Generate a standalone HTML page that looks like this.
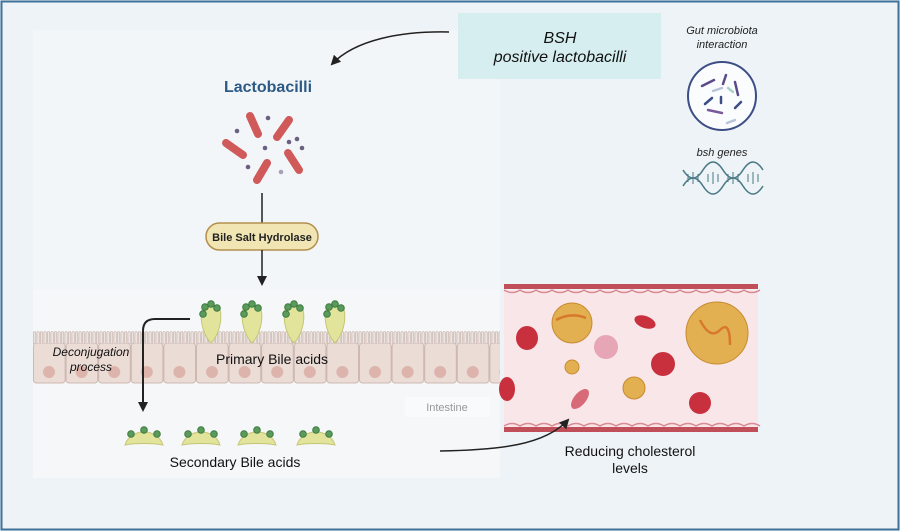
<!DOCTYPE html>
<html><head><meta charset="utf-8"><style>
html,body{margin:0;padding:0;background:#fff}
svg{display:block}
text{font-family:"Liberation Sans",sans-serif}
</style></head><body>
<svg width="900" height="531" viewBox="0 0 900 531" xmlns="http://www.w3.org/2000/svg">
<defs>
<pattern id="cells" x="33" y="343" width="32.6" height="42" patternUnits="userSpaceOnUse">
<rect x="0.5" y="0" width="31.6" height="40" rx="3" fill="#ecdcd6" stroke="#cdb8b2" stroke-width="1"/>
<circle cx="16" cy="29" r="6" fill="#dcb4ac"/>
</pattern>
<pattern id="villi" x="33" y="331" width="3.5" height="13" patternUnits="userSpaceOnUse">
<rect x="0.4" y="0.5" width="2.4" height="13" rx="1.2" fill="#efe3df" stroke="#bfaca6" stroke-width="0.6"/>
</pattern>
<marker id="ah" markerWidth="10" markerHeight="10" refX="8" refY="5" orient="auto" markerUnits="userSpaceOnUse">
<path d="M0,0 L10,5 L0,10 Z" fill="#222"/>
</marker>
<g id="pba">
<path d="M-9,-8 C-12,6 -6,20 0,26 C6,20 12,6 9,-8 C4,-12 -4,-12 -9,-8Z" fill="#e2e49c" stroke="#c5c575" stroke-width="1"/>
<circle cx="-6" cy="-10" r="3.3" fill="#5a9a5a" stroke="#3c7a40"/>
<circle cx="0" cy="-13" r="3.3" fill="#5a9a5a" stroke="#3c7a40"/>
<circle cx="6" cy="-9" r="3.3" fill="#5a9a5a" stroke="#3c7a40"/>
<circle cx="-8" cy="-3" r="3.3" fill="#5a9a5a" stroke="#3c7a40"/>
</g>
<g id="sba">
<path d="M-19,9 C-17,2 -10,-4 0,-4 C10,-4 17,2 19,9 C10,7 -10,7 -19,9 Z" fill="#e2e49c" stroke="#c5c575" stroke-width="1"/>
<circle cx="-13" cy="-2" r="3.3" fill="#5a9a5a" stroke="#3c7a40"/>
<circle cx="0" cy="-6" r="3.3" fill="#5a9a5a" stroke="#3c7a40"/>
<circle cx="13" cy="-2" r="3.3" fill="#5a9a5a" stroke="#3c7a40"/>
</g>
</defs>
<rect x="0" y="0" width="900" height="531" fill="#eef3f7"/>
<rect x="1.5" y="1.5" width="897" height="528" fill="#eef3f7" stroke="#3f7199" stroke-width="2"/>
<rect x="33" y="30" width="467" height="448" fill="#f3f6f9"/>
<rect x="33" y="290" width="467" height="188" fill="#f6f7f8"/>

<!-- BSH box -->
<rect x="458" y="13" width="203" height="66" fill="#d6eef0"/>
<text x="560" y="43" font-size="16" font-style="italic" text-anchor="middle" fill="#111">BSH</text>
<text x="560" y="62" font-size="16" font-style="italic" text-anchor="middle" fill="#111">positive lactobacilli</text>
<path d="M449,32 C400,31 355,40 332,64" fill="none" stroke="#222" stroke-width="1.5" marker-end="url(#ah)"/>

<text x="268" y="92" font-size="16" font-weight="bold" text-anchor="middle" fill="#2c5a85">Lactobacilli</text>
<g stroke="#d0595a" stroke-width="8" stroke-linecap="round">
<line x1="250" y1="116" x2="258" y2="134"/>
<line x1="289" y1="120" x2="277" y2="137"/>
<line x1="226" y1="143" x2="243" y2="155"/>
<line x1="267" y1="163" x2="257" y2="180"/>
<line x1="288" y1="153" x2="299" y2="170"/>
</g>
<g fill="#6a6080">
<circle cx="268" cy="118" r="2.3"/><circle cx="237" cy="131" r="2.3"/><circle cx="265" cy="148" r="2.3"/>
<circle cx="289" cy="142" r="2.3"/><circle cx="297" cy="139" r="2.3"/><circle cx="302" cy="148" r="2.3"/>
<circle cx="248" cy="167" r="2.3"/><circle cx="281" cy="172" r="2.3" fill="#a9a0b8"/>
</g>
<line x1="262" y1="193" x2="262" y2="223" stroke="#222" stroke-width="1.5"/>
<rect x="206" y="223" width="112" height="27" rx="13.5" fill="#f1e6b3" stroke="#b38f4e" stroke-width="1.5"/>
<text x="262" y="241" font-size="11" font-weight="bold" text-anchor="middle" fill="#222">Bile Salt Hydrolase</text>
<line x1="262" y1="250" x2="262" y2="284" stroke="#222" stroke-width="1.5" marker-end="url(#ah)"/>

<!-- intestine cells -->
<rect x="33" y="331" width="467" height="13" fill="url(#villi)"/>
<rect x="33" y="343" width="467" height="42" fill="url(#cells)"/>
<use href="#pba" x="211" y="317"/>
<use href="#pba" x="252" y="317"/>
<use href="#pba" x="294" y="317"/>
<use href="#pba" x="335" y="317"/>
<text x="272" y="364" font-size="14" text-anchor="middle" fill="#111">Primary Bile acids</text>
<text x="91" y="356" font-size="12" font-style="italic" text-anchor="middle" fill="#111">Deconjugation</text>
<text x="91" y="371" font-size="12" font-style="italic" text-anchor="middle" fill="#111">process</text>
<path d="M190,319 L155,319 Q143,319 143,331 L143,410" fill="none" stroke="#222" stroke-width="2" marker-end="url(#ah)"/>
<rect x="405" y="397" width="85" height="20" fill="#f9fafb"/>
<text x="447" y="411" font-size="11" text-anchor="middle" fill="#999">Intestine</text>
<use href="#sba" x="144" y="436"/>
<use href="#sba" x="201" y="436"/>
<use href="#sba" x="257" y="436"/>
<use href="#sba" x="316" y="436"/>
<text x="235" y="467" font-size="14" text-anchor="middle" fill="#111">Secondary Bile acids</text>

<!-- blood vessel -->
<rect x="504" y="290" width="254" height="138" fill="#f8e6e9"/>
<rect x="504" y="284" width="254" height="5" fill="#c14f5a"/>
<rect x="504" y="427" width="254" height="5" fill="#c14f5a"/>
<path d="M504,290 q8,5 16,0 q8,5 16,0 q8,5 16,0 q8,5 16,0 q8,5 16,0 q8,5 16,0 q8,5 16,0 q8,5 16,0 q8,5 16,0 q8,5 16,0 q8,5 16,0 q8,5 16,0 q8,5 16,0 q8,5 16,0 q8,5 16,0 q8,5 16,0" fill="none" stroke="#d88a94" stroke-width="1.5"/>
<path d="M504,426 q8,-5 16,0 q8,-5 16,0 q8,-5 16,0 q8,-5 16,0 q8,-5 16,0 q8,-5 16,0 q8,-5 16,0 q8,-5 16,0 q8,-5 16,0 q8,-5 16,0 q8,-5 16,0 q8,-5 16,0 q8,-5 16,0 q8,-5 16,0 q8,-5 16,0 q8,-5 16,0" fill="none" stroke="#d88a94" stroke-width="1.5"/>
<g fill="#c8303e">
<ellipse cx="527" cy="338" rx="11" ry="12"/>
<ellipse cx="645" cy="322" rx="11" ry="6" transform="rotate(20 645 322)"/>
<circle cx="663" cy="364" r="12"/>
<circle cx="700" cy="403" r="11"/>
<ellipse cx="507" cy="389" rx="8" ry="12"/>
</g>
<ellipse cx="580" cy="399" rx="6" ry="12" transform="rotate(40 580 399)" fill="#d86a78"/>
<circle cx="606" cy="347" r="12" fill="#e6a6b6"/>
<g fill="#e2b050" stroke="#c88a30" stroke-width="1">
<circle cx="572" cy="323" r="20"/>
<circle cx="717" cy="333" r="31"/>
<circle cx="572" cy="367" r="7"/>
<circle cx="634" cy="388" r="11"/>
</g>
<path d="M556,320 q15,-8 30,-2 M700,320 q10,20 20,10 q10,-10 10,15" fill="none" stroke="#d8782a" stroke-width="2.5"/>
<path d="M440,451 C500,450 545,445 568,420" fill="none" stroke="#222" stroke-width="1.5" marker-end="url(#ah)"/>
<text x="630" y="456" font-size="14" text-anchor="middle" fill="#111">Reducing  cholesterol</text>
<text x="630" y="473" font-size="14" text-anchor="middle" fill="#111">levels</text>

<!-- right icons -->
<text x="722" y="34" font-size="11" font-style="italic" text-anchor="middle" fill="#222">Gut microbiota</text>
<text x="722" y="48" font-size="11" font-style="italic" text-anchor="middle" fill="#222">interaction</text>
<circle cx="722" cy="96" r="34" fill="#fbfcfd" stroke="#3b4e85" stroke-width="2"/>
<g stroke-linecap="round" stroke-width="2.5">
<line x1="702" y1="86" x2="714" y2="80" stroke="#5a4a8a"/>
<line x1="726" y1="75" x2="723" y2="84" stroke="#5a4a8a"/>
<line x1="735" y1="82" x2="738" y2="95" stroke="#5a4a8a"/>
<line x1="705" y1="104" x2="712" y2="98" stroke="#3b4e85"/>
<line x1="721" y1="97" x2="721" y2="103" stroke="#3b4e85"/>
<line x1="708" y1="110" x2="722" y2="113" stroke="#7a5a9a"/>
<line x1="735" y1="108" x2="741" y2="102" stroke="#3b4e85"/>
<line x1="713" y1="91" x2="722" y2="88" stroke="#b9c4d8"/>
<line x1="728" y1="88" x2="733" y2="92" stroke="#aad2cc"/>
<line x1="727" y1="123" x2="735" y2="120" stroke="#b9c4d8"/>
</g>
<text x="722" y="156" font-size="11" font-style="italic" text-anchor="middle" fill="#222">bsh genes</text>
<g fill="none" stroke="#4a7a86" stroke-width="1.5">
<path d="M683,170 q10,16 20,0 q10,-16 20,0 q10,16 20,0 q10,-16 20,0"/>
<path d="M683,186 q10,-16 20,0 q10,16 20,0 q10,-16 20,0 q10,16 20,0"/>
<path d="M688,174v8 M693,172v12 M698,174v8 M708,174v8 M713,172v12 M718,174v8 M728,174v8 M733,172v12 M738,174v8 M748,174v8 M753,172v12 M758,174v8" stroke-width="1"/>
</g>
</svg>
</body></html>
